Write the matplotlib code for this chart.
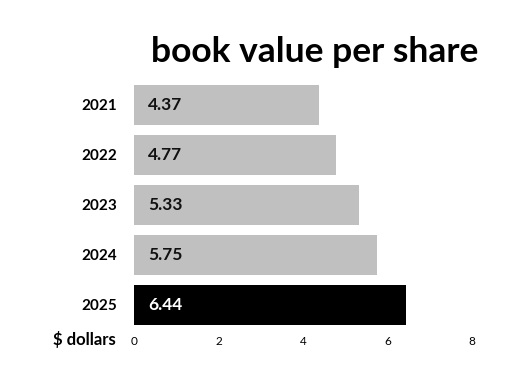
import matplotlib
matplotlib.use("Agg")
import matplotlib.pyplot as plt

years = ["2021", "2022", "2023", "2024", "2025"]
values = [4.37, 4.77, 5.33, 5.75, 6.44]
colors = ["#c0c0c0", "#c0c0c0", "#c0c0c0", "#c0c0c0", "#000000"]
label_colors = ["#111111", "#111111", "#111111", "#111111", "#ffffff"]
xticks = [0, 2, 4, 6, 8]
title = "book value per share"
axis_label = "$ dollars"

plt.rcParams['font.family'] = ['Lato', 'DejaVu Sans']

fig = plt.figure(figsize=(5.32, 3.89), dpi=100)
ax = fig.add_axes([134/532, 1-330/389, (472-134)/532, 250/389])

ypos = list(range(len(years)))
ax.barh(ypos, values, height=0.8, color=colors)
for y, v, c in zip(ypos, values, label_colors):
    ax.text(0.33, y, f"{v:.2f}", va="center", ha="left", fontsize=12.5,
            fontweight="bold", color=c)

ax.set_xlim(0, 8)
ax.set_ylim(4.5, -0.5)
ax.set_yticks(ypos)
ax.set_yticklabels(years, fontsize=11, fontweight="bold")
ax.set_xticks(xticks)
ax.set_xticklabels([str(t) for t in xticks], fontsize=8.5)
ax.tick_params(axis="both", length=0)
ax.tick_params(axis="y", pad=12)
ax.tick_params(axis="x", pad=4)
for lab in ax.get_xticklabels():
    lab.set_x(lab.get_position()[0])
for s in ax.spines.values():
    s.set_visible(False)

fig.text(116/532, 1-340/389, axis_label, ha="right", va="center",
         fontsize=12, fontweight="bold")
fig.text(478/532, 1-52/389, title, ha="right", va="center",
         fontsize=25.5, fontweight="bold")

fig.savefig("out.png", dpi=100)
